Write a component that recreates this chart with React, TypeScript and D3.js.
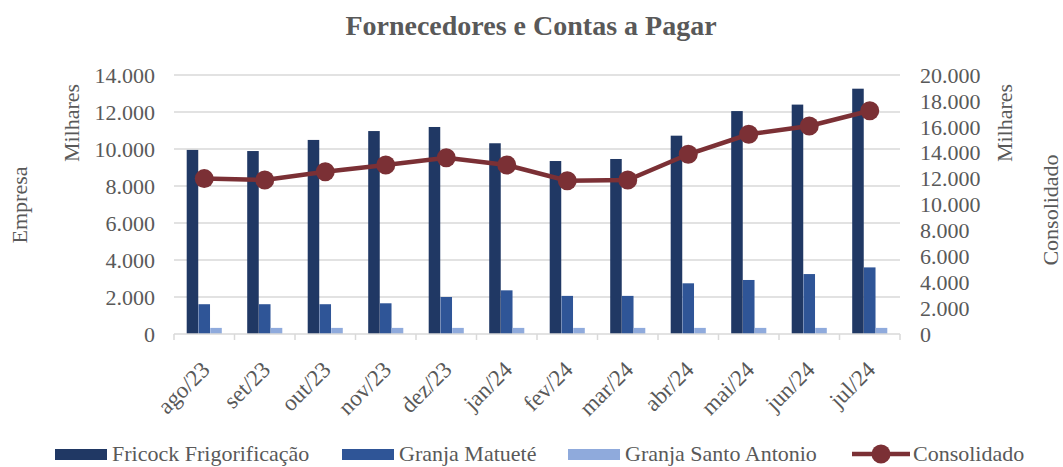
import * as d3 from "d3";

const months = ["ago/23", "set/23", "out/23", "nov/23", "dez/23", "jan/24", "fev/24", "mar/24", "abr/24", "mai/24", "jun/24", "jul/24"];
const fricock = [9950, 9890, 10490, 10970, 11190, 10310, 9350, 9460, 10720, 12050, 12400, 13260];
const matuete = [1610, 1610, 1610, 1660, 2000, 2360, 2060, 2060, 2740, 2920, 3240, 3600];
const santoAntonio = [330, 330, 330, 330, 330, 330, 330, 330, 330, 330, 330, 330];
const consolidado = [12000, 11890, 12530, 13050, 13610, 13050, 11840, 11890, 13880, 15420, 16060, 17240];
const leftTicks = [0, 2000, 4000, 6000, 8000, 10000, 12000, 14000];
const rightTicks = [0, 2000, 4000, 6000, 8000, 10000, 12000, 14000, 16000, 18000, 20000];

const W = 1063;
const H = 467;
const m = { left: 174, right: 900, top: 75, bottom: 334 };
const font = "Liberation Serif, DejaVu Serif, serif";
const txt = "#595959";
const colors = ["#203864", "#2f5597", "#8faadc"];
const lineColor = "#7b3035";

const fmt = (v: number) => (v === 0 ? "0" : d3.format(",")(v).replace(/,/g, "."));

export default function App() {
  const x = d3.scaleBand<string>().domain(months).range([m.left, m.right]);
  const yL = d3.scaleLinear().domain([0, 14000]).range([m.bottom, m.top]);
  const yR = d3.scaleLinear().domain([0, 20000]).range([m.bottom, m.top]);
  const groupW = x.bandwidth() * 0.58;
  const inner = d3.scaleBand<number>().domain([0, 1, 2]).range([-groupW / 2, groupW / 2]).paddingInner(0.02);
  const series = [fricock, matuete, santoAntonio];
  const cx = (mo: string) => (x(mo) ?? 0) + x.bandwidth() / 2;
  const line = d3.line<number>().x((_, i) => cx(months[i])).y((d) => yR(d));

  const legend = [
    { label: "Fricock Frigorificação", x: 55, kind: 0 },
    { label: "Granja Matueté", x: 342, kind: 1 },
    { label: "Granja Santo Antonio", x: 568, kind: 2 },
    { label: "Consolidado", x: 852, kind: 3 },
  ];
  const ts = { fontFamily: font };
  const ly = 454;

  return (
    <svg width={W} height={H} style={{ position: "absolute", left: 0, top: 0, background: "#fff" }}>
      <text x={531} y={35} textAnchor="middle" fontSize={28} fontWeight="bold" fill={txt} style={ts}>
        Fornecedores e Contas a Pagar
      </text>
      {leftTicks.map((t) => (
        <g key={t}>
          {t > 0 && <line x1={m.left} x2={m.right} y1={yL(t)} y2={yL(t)} stroke="#d9d9d9" strokeWidth={1.5} />}
          <text x={155} y={yL(t)} dy="0.35em" textAnchor="end" fontSize={22} fill={txt} style={ts}>
            {fmt(t)}
          </text>
        </g>
      ))}
      {rightTicks.map((t) => (
        <text key={t} x={920} y={yR(t)} dy="0.35em" textAnchor="start" fontSize={22} fill={txt} style={ts}>
          {fmt(t)}
        </text>
      ))}
      {series.map((s, si) =>
        s.map((v, i) => (
          <rect
            key={`${si}-${i}`}
            x={cx(months[i]) + (inner(si) ?? 0)}
            y={yL(v)}
            width={inner.bandwidth()}
            height={yL(0) - yL(v)}
            fill={colors[si]}
          />
        ))
      )}
      <line x1={m.left} x2={m.right} y1={m.bottom} y2={m.bottom} stroke="#d9d9d9" strokeWidth={1.5} />
      {d3.range(months.length + 1).map((i) => {
        const xx = m.left + i * x.step();
        return <line key={i} x1={xx} x2={xx} y1={m.bottom} y2={m.bottom + 6} stroke="#d9d9d9" strokeWidth={1.5} />;
      })}
      <path d={line(consolidado) ?? ""} fill="none" stroke={lineColor} strokeWidth={4.5} />
      {consolidado.map((v, i) => (
        <circle key={i} cx={cx(months[i])} cy={yR(v)} r={9.5} fill={lineColor} />
      ))}
      {months.map((mo) => (
        <text
          key={mo}
          transform={`translate(${cx(mo) + 7},${m.bottom + 37}) rotate(-45)`}
          textAnchor="end"
          fontSize={23}
          fill={txt}
          style={ts}
        >
          {mo}
        </text>
      ))}
      <text transform="translate(79,123) rotate(-90)" textAnchor="middle" fontSize={22} fill={txt} style={ts}>
        Milhares
      </text>
      <text transform="translate(27,205) rotate(-90)" textAnchor="middle" fontSize={22} fill={txt} style={ts}>
        Empresa
      </text>
      <text transform="translate(1012,123) rotate(-90)" textAnchor="middle" fontSize={22} fill={txt} style={ts}>
        Milhares
      </text>
      <text transform="translate(1058,210) rotate(-90)" textAnchor="middle" fontSize={22} fill={txt} style={ts}>
        Consolidado
      </text>
      {legend.map((l) => (
        <g key={l.label}>
          {l.kind < 3 ? (
            <rect x={l.x} y={ly - 5} width={52} height={11} fill={colors[l.kind]} />
          ) : (
            <g>
              <line x1={l.x} x2={l.x + 58} y1={ly} y2={ly} stroke={lineColor} strokeWidth={4.5} />
              <circle cx={l.x + 29} cy={ly} r={9.5} fill={lineColor} />
            </g>
          )}
          <text x={l.x + (l.kind < 3 ? 57 : 61)} y={ly} dy="0.32em" fontSize={22} fill={txt} style={ts}>
            {l.label}
          </text>
        </g>
      ))}
    </svg>
  );
}
